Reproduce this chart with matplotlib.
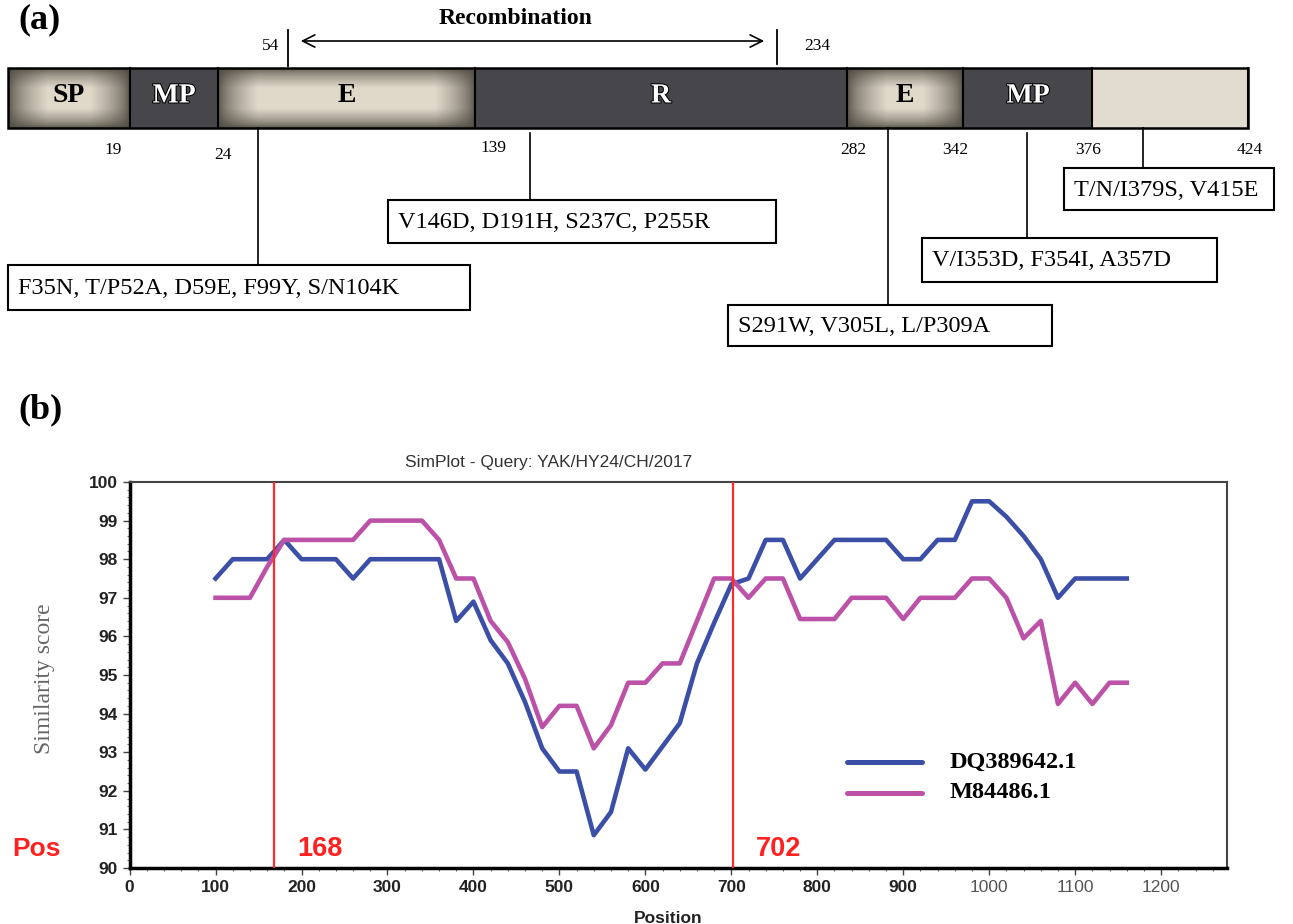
import matplotlib
matplotlib.use('Agg')
from matplotlib import pyplot as plt
from matplotlib import patheffects as pe
from matplotlib.patches import Rectangle
import numpy as np

SERIF = 'Liberation Serif'
SANS = 'Liberation Sans'

# ---- panel (a) data ----
seg_names = ['SP', 'MP', 'E', 'R', 'E', 'MP', '']
seg_kind = ['light', 'dark', 'light', 'dark', 'light', 'dark', 'plain']
boundary_res = ['19', '24', '139', '282', '342', '376', '424']
recomb_start, recomb_end = '54', '234'
mutations = [
    'F35N, T/P52A, D59E, F99Y, S/N104K',
    'V146D, D191H, S237C, P255R',
    'S291W, V305L, L/P309A',
    'V/I353D, F354I, A357D',
    'T/N/I379S, V415E',
]

# ---- panel (b) data ----
position = [100, 120, 140, 160, 180, 200, 220, 240, 260, 280, 300, 320, 340, 360,
            380, 400, 420, 440, 460, 480, 500, 520, 540, 560, 580, 600, 620, 640,
            660, 680, 700, 720, 740, 760, 780, 800, 820, 840, 860, 880, 900, 920,
            940, 960, 980, 1000, 1020, 1040, 1060, 1080, 1100, 1120, 1140, 1160]
dq389642 = [97.5, 98.0, 98.0, 98.0, 98.5, 98.0, 98.0, 98.0, 97.5, 98.0, 98.0, 98.0, 98.0, 98.0,
            96.4, 96.9, 95.9, 95.3, 94.3, 93.1, 92.5, 92.5, 90.85, 91.45, 93.1, 92.55, 93.15, 93.75,
            95.3, 96.35, 97.35, 97.5, 98.5, 98.5, 97.5, 98.0, 98.5, 98.5, 98.5, 98.5, 98.0, 98.0,
            98.5, 98.5, 99.5, 99.5, 99.1, 98.6, 98.0, 97.0, 97.5, 97.5, 97.5, 97.5]
m84486 = [97.0, 97.0, 97.0, 97.8, 98.5, 98.5, 98.5, 98.5, 98.5, 99.0, 99.0, 99.0, 99.0, 98.5,
          97.5, 97.5, 96.4, 95.85, 94.9, 93.65, 94.2, 94.2, 93.1, 93.7, 94.8, 94.8, 95.3, 95.3,
          96.4, 97.5, 97.5, 97.0, 97.5, 97.5, 96.45, 96.45, 96.45, 97.0, 97.0, 97.0, 96.45, 97.0,
          97.0, 97.0, 97.5, 97.5, 97.0, 95.95, 96.4, 94.25, 94.8, 94.25, 94.8, 94.8]
breakpoints = [168, 702]
series_names = ['DQ389642.1', 'M84486.1']
series_colors = ['#3c4fa6', '#bb52a8']

W, H = 1293, 924
fig = plt.figure(figsize=(W / 100, H / 100), dpi=100)

# panel (a) drawn in pixel coordinates over the whole figure
ax_a = fig.add_axes([0, 0, 1, 1])
ax_a.set_axis_off()


def vignette(w, h, rx=40.0, ry=20.0):
    edge = np.array([0.30, 0.28, 0.25])
    center = np.array([0.88, 0.85, 0.79])
    x = np.arange(int(w)) + 0.5
    y = np.arange(int(h)) + 0.5
    tx = np.clip(np.minimum(x, w - x) / rx, 0, 1)
    ty = np.clip(np.minimum(y, h - y) / ry, 0, 1)
    t = np.outer(ty, tx) ** 0.6
    return edge + (center - edge) * t[..., None]


edges_px = [8, 130, 218, 475, 847, 963, 1092, 1248]
bar_top, bar_bot = 68, 128
for i, name in enumerate(seg_names):
    x0, x1 = edges_px[i], edges_px[i + 1]
    if seg_kind[i] == 'light':
        ax_a.imshow(vignette(x1 - x0, bar_bot - bar_top), extent=(x0, x1, bar_bot, bar_top),
                    aspect='auto', interpolation='bilinear', zorder=1)
    else:
        fc = '#47464b' if seg_kind[i] == 'dark' else '#e2dcd0'
        ax_a.add_patch(Rectangle((x0, bar_top), x1 - x0, bar_bot - bar_top, fc=fc, ec='none', zorder=1))
    ax_a.plot([x1, x1], [bar_top, bar_bot], color='black', lw=1.5, zorder=2)
    if name:
        cx = (x0 + x1) / 2
        if name == 'MP' and i == 5:
            cx = 1028
        if seg_kind[i] == 'dark':
            ax_a.text(cx, 96, name, color='white', fontsize=20, fontweight='bold', family=SERIF,
                      ha='center', va='center', zorder=3,
                      path_effects=[pe.withStroke(linewidth=1.5, foreground='black')])
        else:
            ax_a.text(cx, 96, name, color='black', fontsize=20, fontweight='bold', family=SERIF,
                      ha='center', va='center', zorder=3)
ax_a.add_patch(Rectangle((edges_px[0], bar_top), edges_px[-1] - edges_px[0], bar_bot - bar_top,
                         fc='none', ec='black', lw=1.8, zorder=2))

label_x = [113, 223, 493, 853, 955, 1088, 1250]
label_y = [150, 155, 148, 150, 150, 150, 150]
for lx, ly, txt in zip(label_x, label_y, boundary_res):
    ax_a.text(lx, ly, txt, fontsize=12.5, family=SERIF, ha='center', va='center')

# recombination arrow
ax_a.plot([288, 288], [30, 66], color='black', lw=1.3)
ax_a.plot([777, 777], [30, 64], color='black', lw=1.3)
ax_a.annotate('', xy=(298, 41), xytext=(767, 41),
              arrowprops=dict(arrowstyle='<->', color='black', lw=1.2, mutation_scale=22))
ax_a.text(271, 46, recomb_start, fontsize=12.5, family=SERIF, ha='center', va='center')
ax_a.text(817, 46, recomb_end, fontsize=12.5, family=SERIF, ha='center', va='center')
ax_a.text(516, 18, 'Recombination', fontsize=17, fontweight='bold', family=SERIF,
          ha='center', va='center')
ax_a.text(40, 20, '(a)', fontsize=26, fontweight='bold', family=SERIF, ha='center', va='center')
ax_a.text(40, 410, '(b)', fontsize=26, fontweight='bold', family=SERIF, ha='center', va='center')

# mutation boxes: (anchor x, line top, box x0, y0, x1, y1)
boxes = [
    (258, 128, 8, 265, 470, 310),
    (530, 133, 388, 200, 776, 243),
    (888, 128, 728, 305, 1052, 346),
    (1027, 133, 922, 238, 1217, 282),
    (1143, 128, 1064, 168, 1274, 210),
]
for (lx, ltop, x0, y0, x1, y1), txt in zip(boxes, mutations):
    ax_a.plot([lx, lx], [ltop, y0], color='black', lw=1.2)
    ax_a.add_patch(Rectangle((x0, y0), x1 - x0, y1 - y0, fc='white', ec='black', lw=1.5))
    ax_a.text(x0 + 10, (y0 + y1) / 2 + 1, txt, fontsize=17.5, family=SERIF, ha='left', va='center')

# panel (b) texts outside axes
ax_a.text(549, 462, 'SimPlot - Query: YAK/HY24/CH/2017', fontsize=12.5, family=SANS,
          color='#333333', ha='center', va='center')
ax_a.text(37, 849, 'Pos', fontsize=19, fontweight='bold', family=SANS, color='#ff2020',
          ha='center', va='center')
ax_a.text(45, 679, 'Similarity score', fontsize=17, family=SERIF, color='#666666',
          rotation=90, ha='center', va='center')

# legend drawn by hand at its spot
for k, (name, col) in enumerate(zip(series_names, series_colors)):
    ly = 762 + 31 * k
    ax_a.plot([847, 922], [ly, ly], color=col, lw=3.6, solid_capstyle='round')
    ax_a.text(950, ly, name, fontsize=17.5, fontweight='bold', family=SERIF,
              ha='left', va='center')

ax_a.set_xlim(0, W)
ax_a.set_ylim(H, 0)

# ---- panel (b) ----
x_left, x_right, y_top, y_bot = 129.6, 1227, 482, 868
ax = fig.add_axes([x_left / W, 1 - y_bot / H, (x_right - x_left) / W, (y_bot - y_top) / H])
ax.patch.set_alpha(0)
ax.plot(position, dq389642, color=series_colors[0], lw=3.3, zorder=3)
ax.plot(position, m84486, color=series_colors[1], lw=3.3, zorder=3)
for bp in breakpoints:
    ax.axvline(bp, color='#ff2a2a', lw=1.6, zorder=4)
    ax.text(bp + 27, 90.5, str(bp), color='#ff2020', fontsize=19.5, fontweight='bold',
            family=SANS, ha='left', va='center')

ax.set_xlim(0, (x_right - x_left) / 0.8596)
ax.set_ylim(90, 100)
ax.set_xticks(np.arange(0, 1201, 100))
ax.set_xticks(np.arange(0, 1261, 20), minor=True)
ax.set_yticks(np.arange(90, 101, 1))
ax.set_yticks(np.arange(90, 100.01, 0.2), minor=True)
ax.tick_params(which='major', direction='out', length=5, width=1, color='#444444')
ax.tick_params(which='minor', direction='out', length=2.5, width=0.8, color='#666666')
for lab in ax.get_yticklabels():
    lab.set_fontfamily(SANS)
    lab.set_fontweight('bold')
    lab.set_fontsize(12.5)
    lab.set_color('#222222')
for lab, v in zip(ax.get_xticklabels(), ax.get_xticks()):
    lab.set_fontfamily(SANS)
    lab.set_fontsize(12.5)
    if v < 1000:
        lab.set_fontweight('bold')
        lab.set_color('#222222')
    else:
        lab.set_color('#555555')

for s in ['left', 'bottom']:
    ax.spines[s].set_linewidth(2.5)
    ax.spines[s].set_color('black')
for s in ['top', 'right']:
    ax.spines[s].set_linewidth(1.5)
    ax.spines[s].set_color('#444444')

ax.set_xlabel('Position', fontsize=12.5, fontweight='bold', family=SANS, color='#222222')
ax.xaxis.set_label_coords(538.4 / (x_right - x_left), -0.112)

fig.savefig('out.png', dpi=100)
